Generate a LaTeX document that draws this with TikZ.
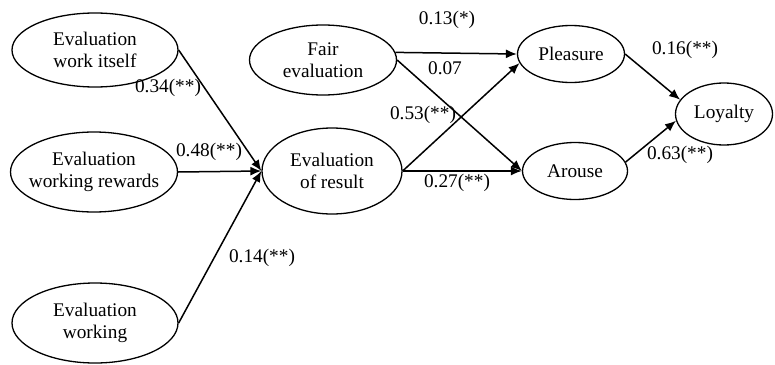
\documentclass[tikz,border=0pt]{standalone}
\usepackage{fontspec}
\setmainfont{Liberation Serif}
\usetikzlibrary{shapes.geometric,arrows.meta}
\begin{document}
\begin{tikzpicture}[x=1pt,y=-1pt,
  var/.style={draw,ellipse,line width=1.3pt,inner sep=0pt},
  vtext/.style={align=center,inner sep=0pt,font=\fontsize{19.3}{21.8}\selectfont},
  path/.style={line width=1.5pt,-{Latex[length=11pt,width=9pt]}},
  coef/.style={font=\fontsize{19.3}{21.8}\selectfont,inner sep=0pt}]
\useasboundingbox (0,0) rectangle (775,364);
\node[var,minimum width=166pt,minimum height=74pt,label={[vtext]center:Evaluation\\work itself}] (e1) at (95,50) {};
\node[var,minimum width=167pt,minimum height=80pt,label={[vtext]center:Evaluation\\working rewards}] (e2) at (94,172) {};
\node[var,minimum width=166pt,minimum height=80pt,label={[vtext]center:Evaluation\\working}] (e3) at (95,323) {};
\node[var,minimum width=140pt,minimum height=86pt,label={[vtext]center:Evaluation\\of result}] (er) at (332,171) {};
\node[var,minimum width=147pt,minimum height=70pt,label={[vtext]center:Fair\\evaluation}] (fe) at (323,60) {};
\node[var,minimum width=107pt,minimum height=57pt,label={[vtext]center:Pleasure}] (pl) at (571,54) {};
\node[var,minimum width=105pt,minimum height=57pt,label={[vtext]center:Arouse}] (ar) at (575,171) {};
\node[var,minimum width=97pt,minimum height=62pt,label={[vtext]center:Loyalty}] (ly) at (724,114) {};

\draw[path] (e1.east) -- (er.west);
\draw[path] (e2.east) -- (er.west);
\draw[path] (e3.east) -- (er.west);
\draw[path] (fe.6) -- (pl.west);
\draw[path] (fe.east) -- (ar.west);
\draw[path] (er.east) -- (pl.190);
\draw[path] (er.east) -- (ar.west);
\draw[path] (pl.east) -- (ly.162);
\draw[path] (ar.10) -- (ly.188);

\node[coef] (c1) at (168,88) {0.34(**)};
\node[coef] (c2) at (209,152) {0.48(**)};
\node[coef] (c3) at (262,258) {0.14(**)};
\node[coef] (c4) at (447,20) {0.13(*)};
\node[coef] (c5) at (445,68) {0.07};
\node[coef] (c6) at (423,115) {0.53(**)};
\node[coef] (c7) at (457,183) {0.27(**)};
\node[coef] (c8) at (685,50) {0.16(**)};
\node[coef] (c9) at (680,155) {0.63(**)};
\end{tikzpicture}
\end{document}
